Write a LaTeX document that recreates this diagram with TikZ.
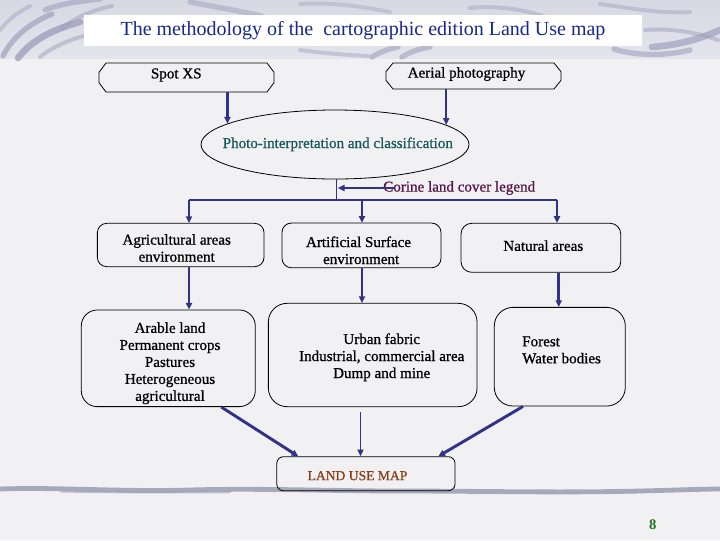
\documentclass[tikz,border=0pt]{standalone}
\usepackage{fontspec}
\setmainfont{Liberation Serif}
\newfontfamily\nodefont{Liberation Serif}[FakeBold=0.8]
\usetikzlibrary{arrows.meta,shapes.geometric,calc}
\definecolor{navy}{RGB}{50,50,135}
\definecolor{titleblue}{RGB}{22,40,140}
\definecolor{tealtxt}{RGB}{25,88,88}
\definecolor{corinetxt}{RGB}{84,22,74}
\definecolor{browntxt}{RGB}{140,62,22}
\definecolor{pgnum}{RGB}{30,115,30}
\definecolor{bgpaper}{RGB}{241,241,243}
\definecolor{bandtop}{RGB}{216,216,228}
\definecolor{bandbot}{RGB}{228,228,236}
\definecolor{swoosh}{RGB}{160,160,190}
\begin{document}
\begin{tikzpicture}[x=0.75pt,y=-0.75pt,
  box/.style={draw=black, line width=0.6pt, rounded corners=#1, inner sep=0pt},
  box/.default=7pt,
  plain/.style={inner sep=0pt, outer sep=0pt},
  txt/.style={font=\nodefont\fontsize{11.3}{12.75}\selectfont, align=center, inner sep=0pt},
  arr/.style={draw=navy, line width=#1, -{Triangle[length=5pt,width=4.6pt]}},
  arr/.default=1.5pt,
  sw/.style={draw=swoosh, line cap=round, line width=#1},
]
\useasboundingbox (0,0) rectangle (720,540);
% ---------- background ----------
\fill[bgpaper] (0,0) rectangle (720,540);
\shade[top color=bandtop, bottom color=bandbot] (0,0) rectangle (720,58);
% swooshes top-left
\draw[sw=4pt, opacity=.7] (3,56) .. controls (12,38) and (28,24) .. (52,14);
\draw[sw=5pt, opacity=.8] (18,58) .. controls (30,42) and (50,30) .. (80,22);
\draw[sw=3pt, opacity=.5] (40,57) .. controls (55,45) and (75,37) .. (100,32);
\draw[sw=4pt, opacity=.6] (45,10) .. controls (60,4) and (80,1) .. (100,-1);
\draw[sw=3pt, opacity=.5] (62,28) .. controls (75,18) and (92,10) .. (112,6);
\draw[sw=3pt, opacity=.45] (0,30) .. controls (8,20) and (18,12) .. (30,6);
% swooshes top-middle
\draw[sw=4pt, opacity=.5] (190,2) .. controls (210,6) and (235,10) .. (262,16);
\draw[sw=3pt, opacity=.4] (300,4) .. controls (330,2) and (360,6) .. (390,12);
\draw[sw=4pt, opacity=.6] (372,57) .. controls (380,52) and (388,49) .. (398,47);
\draw[sw=4pt, opacity=.6] (402,57) .. controls (410,52) and (418,49) .. (430,47);
\draw[sw=3pt, opacity=.45] (300,50) .. controls (330,54) and (350,55) .. (368,56);
\draw[sw=3pt, opacity=.45] (470,8) .. controls (500,5) and (530,10) .. (560,22);
% swooshes top-right
\draw[sw=4pt, opacity=.6] (614,49) .. controls (632,55) and (662,57) .. (690,50);
\draw[sw=5pt, opacity=.7] (652,47) .. controls (680,45) and (702,38) .. (720,30);
\draw[sw=3pt, opacity=.5] (645,30) .. controls (670,28) and (695,32) .. (718,40);
\draw[sw=3pt, opacity=.45] (600,4) .. controls (630,8) and (660,14) .. (690,12);
% bottom wavy rule
\draw[swoosh!90!black, line width=3.6pt, opacity=.75, line cap=round]
  (0,489) .. controls (60,487) and (120,492) .. (190,490)
  .. controls (260,488) and (330,491) .. (400,491)
  .. controls (480,491) and (560,493) .. (640,491)
  .. controls (680,490) and (705,489) .. (720,489);
\draw[swoosh, line width=1.4pt, opacity=.6]
  (60,491.5) .. controls (120,493) and (170,492) .. (230,492.5);
% ---------- title ----------
\fill[white] (84,15) rectangle (642,46);
\node[inner sep=0pt, font=\fontsize{15}{18}\selectfont, text=titleblue] (title) at (363,31)
  {The methodology of the\ \ cartographic edition Land Use map};
% ---------- boxes ----------
\node[plain, minimum width=131.25pt, minimum height=21.75pt] (spot) at (186.5,77.5) {};
\draw[line width=0.6pt]
  ([xshift=5.25pt]spot.north west) -- ([xshift=-5.25pt]spot.north east)
  -- ([yshift=-7pt]spot.north east) -- ([yshift=7pt]spot.south east)
  -- ([xshift=-5.25pt]spot.south east) -- ([xshift=5.25pt]spot.south west)
  -- ([yshift=7pt]spot.south west) -- ([yshift=-7pt]spot.north west) -- cycle;
\node[plain, minimum width=131.25pt, minimum height=19.5pt] (aerial) at (473.5,76) {};
\draw[line width=0.6pt]
  ([xshift=5.25pt]aerial.north west) -- ([xshift=-5.25pt]aerial.north east)
  -- ([yshift=-6.5pt]aerial.north east) -- ([yshift=6.5pt]aerial.south east)
  -- ([xshift=-5.25pt]aerial.south east) -- ([xshift=5.25pt]aerial.south west)
  -- ([yshift=6.5pt]aerial.south west) -- ([yshift=-6.5pt]aerial.north west) -- cycle;
\node[txt] (spottxt) at (176.3,75) {Spot XS};
\node[txt] (aerialtxt) at (466.5,74) {Aerial photography};

\node[ellipse, draw=black, line width=0.6pt, inner sep=0pt,
      minimum width=201pt, minimum height=51.75pt] (photo) at (335,144.5) {};
\node[txt, text=tealtxt] (phototxt) at (337.8,144.3) {Photo-interpretation and classification};

\node[txt, anchor=west, text=corinetxt] (corine) at (383,188) {Corine land cover legend};

\node[box=7pt, minimum width=125pt, minimum height=32.5pt] (agri) at (180.7,245) {};
\node[txt] (agritxt) at (176.7,248) {Agricultural areas\\environment};
\node[box=7pt, minimum width=119.25pt, minimum height=33.5pt] (artif) at (361.5,245.4) {};
\node[txt] (artiftxt) at (358.5,250.3) {Artificial Surface\\\hspace*{4pt}environment};
\node[box=8pt, minimum width=119.8pt, minimum height=36.75pt] (natural) at (540.9,247.8) {};
\node[txt] (naturaltxt) at (543.3,245.7) {Natural areas};

\node[box=12pt, minimum width=130.5pt, minimum height=72.5pt] (arable) at (168.3,358.3) {};
\node[txt] (arabletxt) at (170,363.3)
  {Arable land\\Permanent crops\\Pastures\\Heterogeneous\\agricultural};
\node[box=14pt, minimum width=156.5pt, minimum height=77.5pt] (urban) at (372.7,355) {};
\node[txt] (urbantxt) at (381.7,357.3)
  {Urban fabric\\Industrial, commercial area\\Dump and mine};
\node[box=14pt, minimum width=98.25pt, minimum height=74pt] (forest) at (559.8,356.7) {};
\node[txt, anchor=west, align=left] (foresttxt) at (522,350) {Forest\\Water bodies};

\node[box=5pt, minimum width=133.7pt, minimum height=25.5pt] (landuse) at (365.9,473.7) {};
\node[inner sep=0pt, font=\nodefont\fontsize{10.2}{12}\selectfont, text=browntxt] (landusetxt)
  at (357.5,475.7) {LAND USE MAP};

\node[inner sep=0pt, font=\bfseries\fontsize{11}{13}\selectfont, text=pgnum] (pg) at (652.7,525) {8};

% ---------- connectors ----------
\coordinate (bus) at (336.5,200);
\coordinate (b1) at (189,200);
\coordinate (b2) at (362,200);
\coordinate (b3) at (557,200);

\draw[arr=2.2pt] (spot.south -| photo.169) -- (photo.169);
\draw[arr=1.1pt] (aerial.south -| photo.10) -- (photo.10);
\draw[navy, line width=0.8pt] (photo.south -| bus) -- (bus);
\draw[arr=2pt] ([xshift=9pt]corine.west) -- ([xshift=1pt]corine.west -| bus);
\draw[navy, line width=1.2pt] (b1) -- (b3);
\draw[arr=1.6pt] (b1) -- (agri.north -| b1);
\draw[arr=1.6pt] (b2) -- (artif.north -| b2);
\draw[arr=1.6pt] (b3) -- (natural.north -| b3);

\draw[arr=2.2pt] (agri.south -| b1) -- (arable.north -| b1);
\draw[arr=2.2pt] (artif.south -| b2) -- (urban.north -| b2);
\draw[arr=2.2pt] ([xshift=1.3pt]natural.south -| b3) -- ([xshift=1.3pt]forest.north -| b3);

\draw[arr=2.2pt] ($(arable.south)+(53,0)$) -- ($(landuse.north)+(-67.6,0)$);
\draw[arr=1.1pt] ($(urban.south)+(-12.2,5.3)$) -- ($(landuse.north)+(-5.4,0)$);
\draw[arr=2.2pt] ($(forest.south)+(-36.8,0)$) -- ($(landuse.north)+(72.4,0)$);
\end{tikzpicture}
\end{document}
